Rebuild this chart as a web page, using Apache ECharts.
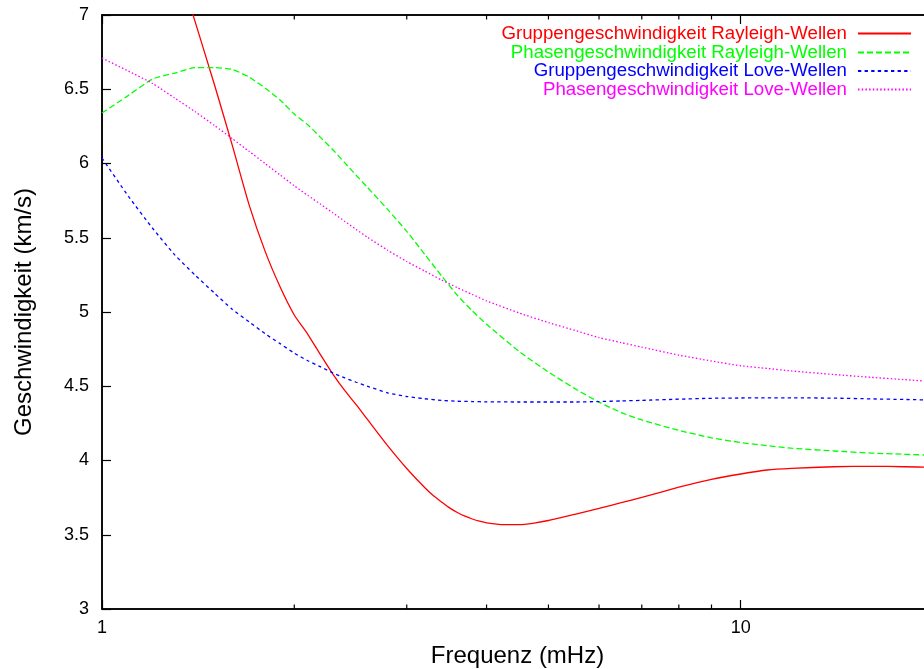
<!DOCTYPE html>
<html>
<head>
<meta charset="utf-8">
<script src="https://cdn.jsdelivr.net/npm/echarts@6/dist/echarts.min.js"></script>
<style>
  html, body { margin: 0; padding: 0; background: #fff; }
  #chart { width: 924px; height: 669px; }
</style>
</head>
<body>
<div id="chart"></div>
<script>
// Dispersion curves: velocity (km/s) over frequency (mHz), sampled on a common frequency grid
const freqSamples = [1.0, 1.1, 1.2, 1.3, 1.4, 1.5, 1.6, 1.7, 1.8, 1.9, 2.0, 2.1, 2.2, 2.3, 2.4, 2.5, 2.6, 2.8, 3.0, 3.2, 3.4, 3.6, 3.8, 4.0, 4.5, 5.0, 5.5, 6.0, 6.5, 7.0, 8.0, 9.0, 10, 11, 12, 14, 16, 18, 20];

// Rayleigh group velocity starts above the plotted range and is sampled more finely around its minimum
const freqGroupRayleigh = [1.3, 1.4, 1.5, 1.6, 1.7, 1.8, 1.9, 2.0, 2.1, 2.2, 2.3, 2.4, 2.5, 2.6, 2.8, 3.0, 3.2, 3.3, 3.4, 3.5, 3.6, 3.7, 3.8, 3.9, 4.0, 4.25, 4.5, 4.75, 5.0, 5.5, 6.0, 6.5, 7.0, 8.0, 9.0, 10, 11, 12, 14, 16, 18, 20];
const velGroupRayleigh = [7.40, 6.95, 6.53, 6.12, 5.72, 5.41, 5.17, 4.98, 4.85, 4.71, 4.58, 4.47, 4.376, 4.28, 4.10, 3.946, 3.818, 3.764, 3.721, 3.681, 3.650, 3.625, 3.606, 3.591, 3.580, 3.568, 3.568, 3.579, 3.596, 3.638, 3.678, 3.716, 3.752, 3.82, 3.873, 3.909, 3.936, 3.947, 3.958, 3.961, 3.958, 3.954];

const velPhaseRayleigh = [6.34, 6.459, 6.569, 6.609, 6.646, 6.646, 6.633, 6.582, 6.508, 6.428, 6.333, 6.261, 6.174, 6.091, 6.004, 5.921, 5.842, 5.691, 5.543, 5.389, 5.244, 5.113, 5.007, 4.918, 4.734, 4.596, 4.484, 4.393, 4.323, 4.273, 4.203, 4.153, 4.121, 4.100, 4.083, 4.064, 4.050, 4.042, 4.035];

const velGroupLove = [6.037, 5.779, 5.564, 5.385, 5.247, 5.127, 5.017, 4.933, 4.854, 4.787, 4.723, 4.672, 4.630, 4.589, 4.556, 4.527, 4.501, 4.456, 4.431, 4.416, 4.405, 4.399, 4.397, 4.395, 4.394, 4.394, 4.394, 4.397, 4.401, 4.405, 4.413, 4.419, 4.421, 4.422, 4.422, 4.420, 4.415, 4.411, 4.407];

const velPhaseLove = [6.710, 6.622, 6.539, 6.440, 6.348, 6.256, 6.167, 6.081, 6.000, 5.923, 5.850, 5.785, 5.725, 5.667, 5.610, 5.556, 5.505, 5.416, 5.340, 5.276, 5.216, 5.164, 5.118, 5.075, 4.993, 4.929, 4.876, 4.828, 4.794, 4.763, 4.710, 4.670, 4.638, 4.620, 4.603, 4.579, 4.560, 4.545, 4.531];

const seriesNames = [
  'Gruppengeschwindigkeit Rayleigh-Wellen',
  'Phasengeschwindigkeit Rayleigh-Wellen',
  'Gruppengeschwindigkeit Love-Wellen',
  'Phasengeschwindigkeit Love-Wellen'
];
const seriesColors = ['#ff0000', '#00ff00', '#0000ff', '#ff00ff'];
const seriesDashes = ['solid', [6, 3], [3.3, 3.3], [1.5, 2.2]];
const seriesFreq = [freqGroupRayleigh, freqSamples, freqSamples, freqSamples];
const seriesVel  = [velGroupRayleigh, velPhaseRayleigh, velGroupLove, velPhaseLove];

const minorFreqTicks = [2, 3, 4, 5, 6, 7, 8, 9, 20];

const FONT = '"Liberation Sans", Arial, Helvetica, sans-serif';

const chart = echarts.init(document.getElementById('chart'), null, { renderer: 'canvas' });

const zip = (xs, ys) => xs.map((x, i) => [x, ys[i]]);

const legendRowsTop = [24, 43, 61.5, 80];

const option = {
  animation: false,
  backgroundColor: '#ffffff',
  textStyle: { fontFamily: FONT },
  grid: {
    left: 102, top: 15, width: 831, height: 594,
    outerBoundsMode: 'none', containLabel: false,
    show: true, borderColor: '#000', borderWidth: 1.5, backgroundColor: 'transparent'
  },
  legend: seriesNames.map((name, i) => ({
    data: [name],
    right: 12,
    top: legendRowsTop[i],
    padding: 0,
    align: 'right',
    orient: 'vertical',
    itemWidth: 53,
    itemHeight: 12,
    selectedMode: false,
    itemStyle: { opacity: 0 },
    textStyle: { color: seriesColors[i], fontSize: 18.7, fontFamily: FONT, padding: [0, 6, 0, 0] }
  })),
  xAxis: [
    {
      type: 'log', logBase: 10, min: 1, max: 20,
      name: 'Frequenz (mHz)', nameLocation: 'middle', nameGap: 35,
      nameTextStyle: { fontSize: 24, color: '#000', fontFamily: FONT },
      axisLine: { show: true, lineStyle: { color: '#000', width: 1.5 } },
      axisTick: { show: true, inside: true, length: 9, lineStyle: { color: '#000', width: 1.2 } },
      axisLabel: { color: '#000', fontSize: 18, margin: 10, fontFamily: FONT, showMaxLabel: false },
      splitLine: { show: false }
    },
    {
      type: 'log', logBase: 10, min: 1, max: 20, position: 'top',
      axisLine: { show: true, lineStyle: { color: '#000', width: 1.5 } },
      axisTick: { show: true, inside: true, length: 9, lineStyle: { color: '#000', width: 1.2 } },
      axisLabel: { show: false },
      splitLine: { show: false }
    }
  ],
  yAxis: {
    type: 'value', min: 3, max: 7, interval: 0.5,
    name: 'Geschwindigkeit (km/s)', nameLocation: 'middle', nameGap: 66,
    nameTextStyle: { fontSize: 24, color: '#000', fontFamily: FONT },
    axisLine: { show: true, lineStyle: { color: '#000', width: 1.5 } },
    axisTick: { show: true, inside: true, length: 9, lineStyle: { color: '#000', width: 1.2 } },
    axisLabel: { color: '#000', fontSize: 18, margin: 13, fontFamily: FONT },
    splitLine: { show: false }
  },
  series: seriesNames.map((name, i) => ({
    name: name,
    type: 'line',
    xAxisIndex: 0,
    data: zip(seriesFreq[i], seriesVel[i]),
    showSymbol: false,
    symbol: 'none',
    smooth: 0.2,
    clip: true,
    color: seriesColors[i],
    lineStyle: { color: seriesColors[i], width: 1.3, type: seriesDashes[i] }
  }))
};

chart.setOption(option);

// Minor log ticks (2..9, 20) on bottom and top edges, placed through the axis scale
const grid = chart.getModel().getComponent('grid').coordinateSystem.getRect();
const minorTicks = [];
minorFreqTicks.forEach(f => {
  const px = chart.convertToPixel({ xAxisIndex: 0 }, f);
  minorTicks.push({
    type: 'line', silent: true,
    shape: { x1: px, y1: grid.y + grid.height, x2: px, y2: grid.y + grid.height - 4.5 },
    style: { stroke: '#000', lineWidth: 1.2 }
  });
  minorTicks.push({
    type: 'line', silent: true,
    shape: { x1: px, y1: grid.y, x2: px, y2: grid.y + 4.5 },
    style: { stroke: '#000', lineWidth: 1.2 }
  });
});
chart.setOption({ graphic: minorTicks });
</script>
</body>
</html>
